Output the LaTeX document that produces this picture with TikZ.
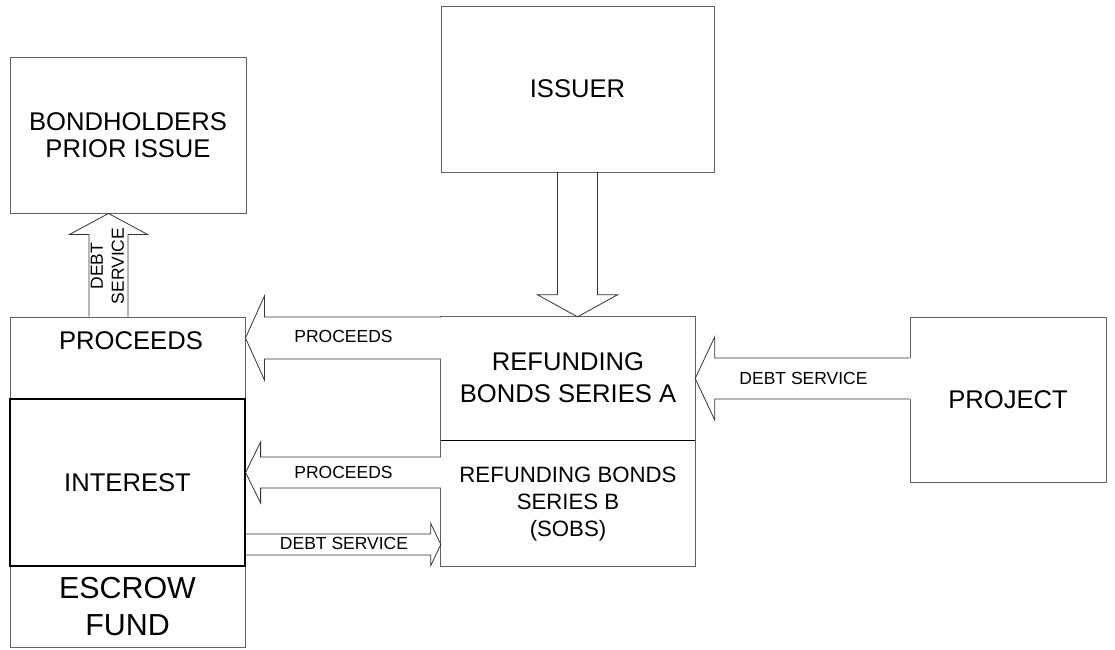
\documentclass[tikz,border=0pt]{standalone}
\usepackage{fontspec}
\setmainfont{Liberation Sans}
\usetikzlibrary{calc}
\definecolor{gl}{gray}{0.38}
\definecolor{al}{gray}{0.2}
\tikzset{
  gbox/.style={draw=gl, line width=0.9pt, rectangle, inner sep=0pt, align=center},
  bbox/.style={draw=black, line width=1.2pt, rectangle, inner sep=0pt, align=center},
  tbox/.style={rectangle, inner sep=0pt, align=center},
  bigf/.style={font=\fontsize{25.6}{27}\selectfont},
  lbl/.style={inner sep=0pt, font=\fontsize{17.5}{21}\selectfont},
  aline/.style={draw=al, line width=0.8pt, line join=miter},
}
% left-pointing block arrow: tip anchor, tail anchor, y centre, half shaft, half head, head length
\newcommand\arrL[6]{%
  \fill[white] let \p1=(#1),\p2=(#2) in (\x1,#3pt) -- (\x1+#6pt,#3pt+#5pt) -- (\x1+#6pt,#3pt+#4pt) -- (\x2+1.2pt,#3pt+#4pt) -- (\x2+1.2pt,#3pt-#4pt) -- (\x1+#6pt,#3pt-#4pt) -- (\x1+#6pt,#3pt-#5pt) -- cycle;
  \draw[aline] let \p1=(#1),\p2=(#2) in (\x2,#3pt+#4pt) -- (\x1+#6pt,#3pt+#4pt) -- (\x1+#6pt,#3pt+#5pt) -- (\x1,#3pt) -- (\x1+#6pt,#3pt-#5pt) -- (\x1+#6pt,#3pt-#4pt) -- (\x2,#3pt-#4pt);
}
\begin{document}
\begin{tikzpicture}[x=1pt,y=1pt]
\useasboundingbox (0,0) rectangle (1115,649);
% boxes
\node[gbox, bigf, minimum width=236pt, minimum height=156pt] (bond) at (128,514) {BONDHOLDERS\\PRIOR ISSUE};
\node[gbox, bigf, minimum width=273pt, minimum height=166pt] (issuer) at (577.5,560) {ISSUER};
\node[gbox, minimum width=235pt, minimum height=82pt] (procbox) at (127.5,291) {};
\node[gbox, minimum width=235pt, minimum height=81pt, font=\fontsize{30.4}{37}\selectfont] (escrow) at (127.5,42.5) {ESCROW\\FUND};
\node[bbox, bigf, minimum width=235pt, minimum height=167pt] (interest) at (127.5,166.5) {INTEREST};
\node[tbox, minimum width=254pt, minimum height=125pt, font=\fontsize{25.6}{32}\selectfont] (refA) at (568,271) {REFUNDING\\BONDS SERIES A};
\node[tbox, minimum width=254pt, minimum height=124pt, font=\fontsize{22.2}{27}\selectfont] (refB) at (568,145) {REFUNDING BONDS\\SERIES B\\(SOBS)};
\draw[gl, line width=0.9pt] ([yshift=-1.5pt]refA.north west) rectangle (refB.south east);
\draw[black, line width=0.8pt] (refA.south west) -- (refA.south east);
\node[gbox, bigf, minimum width=196pt, minimum height=165pt] (project) at (1008,249.5) {PROJECT};
% block arrows
\arrL{procbox.east}{refA.west}{311}{21}{42}{19}
\arrL{interest.east}{refB.west}{176.5}{15.5}{30.5}{15}
\arrL{refA.east}{project.west}{270.5}{20.5}{41.5}{19.5}
\draw[aline] let \p1=(interest.east),\p2=(refB.west) in (\x1,115pt) -- (\x2-10pt,115pt) -- (\x2-10pt,125.5pt) -- (\x2,104.5pt) -- (\x2-10pt,83.5pt) -- (\x2-10pt,94pt) -- (\x1,94pt);
\fill[white] let \p1=(issuer.south),\p2=(refA.north) in (\x1,\y2-1.5pt) -- (\x1-40pt,\y2+20.5pt) -- (\x1-20pt,\y2+20.5pt) -- (\x1-20pt,\y1-1.2pt) -- (\x1+20pt,\y1-1.2pt) -- (\x1+20pt,\y2+20.5pt) -- (\x1+40pt,\y2+20.5pt) -- cycle;
\draw[aline] let \p1=(issuer.south),\p2=(refA.north) in (\x1-20pt,\y1) -- (\x1-20pt,\y2+20.5pt) -- (\x1-40pt,\y2+20.5pt) -- (\x1,\y2-1.5pt) -- (\x1+40pt,\y2+20.5pt) -- (\x1+20pt,\y2+20.5pt) -- (\x1+20pt,\y1);
\draw[aline] let \p1=(bond.south),\p2=(procbox.north) in (89pt,\y2) -- (89pt,\y1-21pt) -- (69.5pt,\y1-21pt) -- (108.5pt,\y1) -- (147.5pt,\y1-21pt) -- (128pt,\y1-21pt) -- (128pt,\y2);
% labels
\node[bigf, inner sep=0pt] (proct) at (131,308) {PROCEEDS};
\node[lbl] (l1) at (343.5,313) {PROCEEDS};
\node[lbl] (l2) at (343.5,177) {PROCEEDS};
\node[lbl] (l3) at (344,105.5) {DEBT SERVICE};
\node[lbl] (l4) at (803.5,270.5) {DEBT SERVICE};
\node[lbl, rotate=90, align=center] (l5) at (107.5,383) {DEBT\\SERVICE};
\end{tikzpicture}
\end{document}
